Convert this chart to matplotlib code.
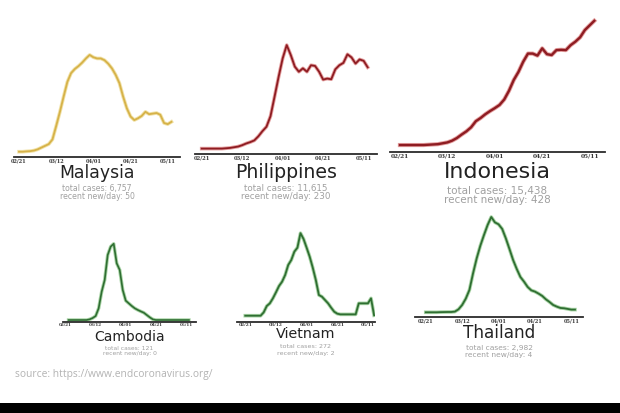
import matplotlib
matplotlib.use("Agg")
import matplotlib.pyplot as plt
import matplotlib.patheffects as pe
from matplotlib.patches import Rectangle

# ---------------- data (7-day avg new cases/day, every 2 days from 02/21) ----------------
tick_days = [0, 20, 40, 60, 80]
tick_labels = ["02/21", "03/12", "04/01", "04/21", "05/11"]

days = list(range(0, 84, 2))
malaysia = [0, 0, 0.6, 1, 2, 4, 7, 10, 13, 21, 44, 68, 94, 119, 134, 141, 146, 152, 159, 165,
            161, 159, 159, 156, 150, 142, 131, 117, 94, 74, 60, 54, 57, 61, 68, 64, 65, 66, 63,
            49, 47, 51]
philippines = [0, 0, 0, 0, 0, 0, 1, 2, 4, 6, 10, 15, 19, 24, 36, 51, 64, 95, 152, 210, 264, 303,
               274, 240, 225, 235, 225, 244, 242, 225, 202, 205, 203, 232, 244, 251, 276, 267,
               249, 261, 257, 238]
indonesia = [0, 0, 0, 0, 0, 0, 1, 2, 3, 6, 9, 15, 24, 36, 47, 61, 82, 93, 106, 117, 127, 138,
             157, 187, 224, 252, 287, 315, 315, 308, 333, 313, 310, 327, 328, 327, 344, 356, 371,
             396, 412, 428]
cambodia_days = list(range(2, 84, 2))
cambodia = [0, 0, 0, 0, 0, 0, 0, 0.06, 0.18, 0.36, 1.06, 2.56, 3.62, 5.88, 6.64, 6.9, 5.13, 4.53,
            2.72, 1.75, 1.51, 1.27, 1.06, 0.91, 0.78, 0.66, 0.45, 0.24, 0.06, 0, 0, 0, 0, 0, 0, 0,
            0, 0, 0, 0, 0]
vietnam_days = list(range(0, 86, 2))
vietnam = [0, 0, 0, 0, 0, 0, 0.4, 1.16, 1.48, 2.08, 2.8, 3.56, 4.08, 4.88, 6.08, 6.68, 7.68, 8.16,
           9.9, 9.2, 8.16, 7.08, 5.76, 4.28, 2.48, 2.28, 1.88, 1.48, 0.96, 0.48, 0.24, 0.16, 0.16,
           0.16, 0.16, 0.16, 0.16, 1.48, 1.48, 1.48, 1.48, 2.08, 0.05]
thailand = [0, 0, 0, 0, 0.2, 0.3, 0.4, 0.4, 0.9, 4.0, 9.8, 18.3, 29.9, 52.2, 72.3, 89.2, 103.5,
            116.9, 127.6, 120.4, 117.8, 111.6, 99.0, 84.7, 70.0, 58.0, 47.3, 41.0, 33.9, 29.4,
            27.7, 25.0, 21.9, 17.4, 13.8, 9.8, 7.6, 5.8, 5.4, 4.5, 3.6, 3.6]

names = ["Malaysia", "Philippines", "Indonesia", "Cambodia", "Vietnam", "Thailand"]
total_cases = ["6,757", "11,615", "15,438", "121", "272", "2,982"]
recent_per_day = ["50", "230", "428", "0", "2", "4"]
source_text = "source: https://www.endcoronavirus.org/"

# ---------------- layout ----------------
W, H = 620, 413
fig = plt.figure(figsize=(W / 100, H / 100), dpi=100)
fig.patch.set_facecolor("white")

GOLD = ("#d6b249", "#f1e2a8")
RED = ("#8e1c22", "#e4a0a0")
GREEN = ("#2f6e32", "#a9d4a6")

panels = [
    dict(x=days, y=malaysia, box=(14, 180, 157, 52), xlim=(-2.7, 86.6), ylim=(-9, 170), col=GOLD,
         lw=1.3, tfs=12.4, sfs=5.6, ty=173, sy=(188, 196), kfs=3.6),
    dict(x=days, y=philippines, box=(195, 377, 154, 41), xlim=(-3.3, 86.6), ylim=(-15.8, 315), col=RED,
         lw=1.3, tfs=13.6, sfs=6.3, ty=172, sy=(188, 196), kfs=3.8),
    dict(x=days, y=indonesia, box=(390, 605, 152, 17), xlim=(-4.2, 86.5), ylim=(-24, 441), col=RED,
         lw=1.7, tfs=15.9, sfs=7.5, ty=172, sy=(191, 200), kfs=4.2),
    dict(x=cambodia_days, y=cambodia, box=(63, 196, 322, 240), xlim=(-1.7, 86.7), ylim=(-0.18, 7.24), col=GREEN,
         lw=1.2, tfs=10.0, sfs=4.3, ty=337, sy=(348, 354), kfs=3.0),
    dict(x=vietnam_days, y=vietnam, box=(237, 375, 321.7, 230), xlim=(-5.4, 84.6), ylim=(-0.72, 10.28), col=GREEN,
         lw=1.3, tfs=10.3, sfs=4.6, ty=333.5, sy=(347, 353), kfs=3.2),
    dict(x=days, y=thailand, box=(415, 583, 317.3, 214), xlim=(-5.9, 86.4), ylim=(-6.7, 131.6), col=GREEN,
         lw=1.3, tfs=12.2, sfs=5.4, ty=332.5, sy=(348, 355), kfs=3.6),
]

for name, tot, rec, p in zip(names, total_cases, recent_per_day, panels):
    x0, x1, ya, yt = p["box"]
    ax = fig.add_axes([x0 / W, 1 - ya / H, (x1 - x0) / W, (ya - yt) / H])
    core, halo = p["col"]
    ax.plot(p["x"], p["y"], color=core, lw=p["lw"], solid_joinstyle="round",
            path_effects=[pe.Stroke(linewidth=p["lw"] + 1.3, foreground=halo), pe.Normal()])
    ax.set_xlim(*p["xlim"])
    ax.set_ylim(*p["ylim"])
    for s in ("top", "left", "right"):
        ax.spines[s].set_visible(False)
    ax.spines["bottom"].set_color("#2b2b2b")
    ax.spines["bottom"].set_linewidth(1.3)
    ax.set_yticks([])
    ax.set_xticks(tick_days)
    ax.set_xticklabels(tick_labels, fontsize=p["kfs"], family="DejaVu Serif",
                       fontweight="bold", color="#3a3a3a")
    ax.tick_params(axis="x", length=0, pad=0.8)
    ax.patch.set_alpha(0)
    cx = (x0 + x1) / 2 / W
    fig.text(cx, 1 - p["ty"] / H, name, ha="center", va="center",
             fontsize=p["tfs"], color="#222222")
    fig.text(cx, 1 - p["sy"][0] / H, f"total cases: {tot}", ha="center", va="center",
             fontsize=p["sfs"], color="#a0a0a0")
    fig.text(cx, 1 - p["sy"][1] / H, f"recent new/day: {rec}", ha="center", va="center",
             fontsize=p["sfs"], color="#a0a0a0")

fig.text(15 / W, 1 - 375 / H, source_text, ha="left", va="center",
         fontsize=7.4, family="Open Sans", color="#b3b3b3")

fig.patches.append(Rectangle((0, 0), 1, 10 / H, transform=fig.transFigure,
                             facecolor="black", edgecolor="none"))

fig.savefig("out.png", dpi=100)
